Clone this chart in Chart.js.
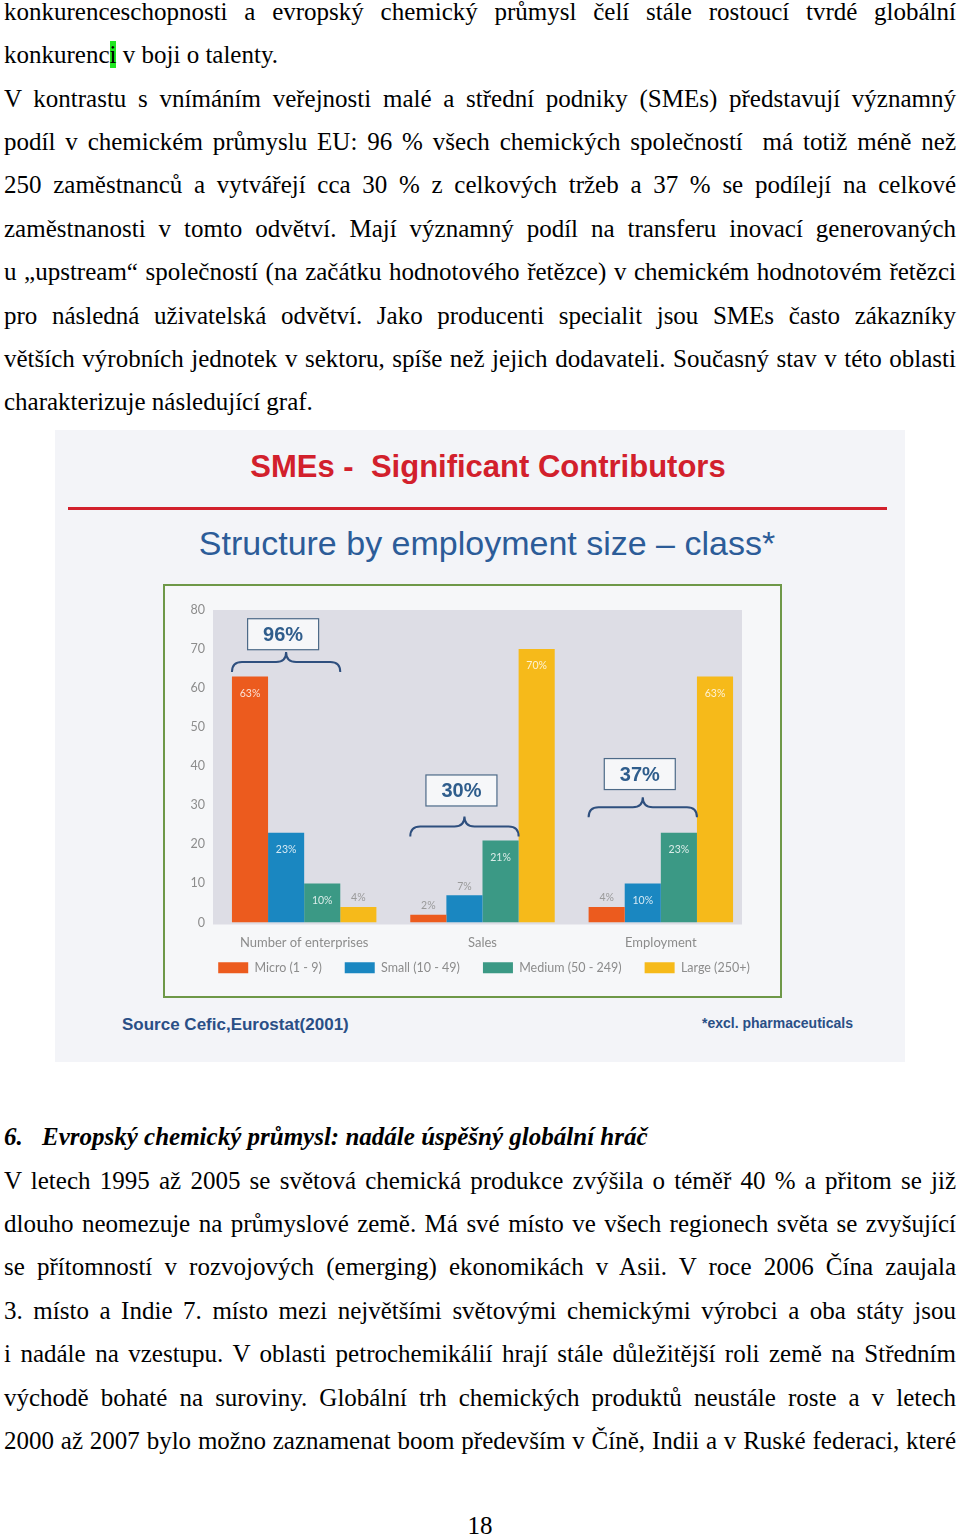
<!DOCTYPE html>
<html>
<head>
<meta charset="utf-8">
<script src="https://cdn.jsdelivr.net/npm/chart.js@4.4.0/dist/chart.umd.min.js"></script>
<style>
  body { margin: 0; width: 960px; height: 1537px; position: relative; background: #fff; overflow: hidden; }
  .txt { position: absolute; left: 4px; width: 952px; font-family: "Liberation Serif", "Times New Roman", serif; font-size: 25px; line-height: 43.4px; color: #000; }
  .j { text-align: justify; text-align-last: justify; }
  .hl { background: #22e622; }
  .num { display: inline-block; width: 38px; }
  #fig { position: absolute; left: 55px; top: 430px; width: 850px; height: 632px; background: #f3f4f8; font-family: "Liberation Sans", Arial, sans-serif; }
  #fig .t { position: absolute; white-space: nowrap; }
  #box { position: absolute; left: 108px; top: 154px; width: 619px; height: 414px; box-sizing: border-box; border: 2px solid #6e9848; background: #f6f7f9; }
</style>
</head>
<body>

<div class="txt" style="top:-10.25px">
  <div class="j">konkurenceschopnosti a evropský chemický průmysl čelí stále rostoucí tvrdé globální</div>
  <div>konkurenc<span class="hl">i</span> v boji o talenty.</div>
  <div class="j">V kontrastu s vnímáním veřejnosti malé a střední podniky (SMEs) představují významný</div>
  <div class="j">podíl v chemickém průmyslu EU: 96 % všech chemických společností&nbsp; má totiž méně než</div>
  <div class="j">250 zaměstnanců a vytvářejí cca 30 % z celkových tržeb a 37 % se podílejí na celkové</div>
  <div class="j">zaměstnanosti v tomto odvětví. Mají významný podíl na transferu inovací generovaných</div>
  <div class="j">u „upstream“ společností (na začátku hodnotového řetězce) v chemickém hodnotovém řetězci</div>
  <div class="j">pro následná uživatelská odvětví. Jako producenti specialit jsou SMEs často zákazníky</div>
  <div class="j">větších výrobních jednotek v sektoru, spíše než jejich dodavateli. Současný stav v této oblasti</div>
  <div>charakterizuje následující graf.</div>
</div>

<div id="fig">
  <div class="t" style="left:8px;width:850px;top:17px;line-height:40px;text-align:center;font-size:31px;font-weight:bold;color:#d2202c;">SMEs -&nbsp; Significant Contributors</div>
  <div style="position:absolute;left:13px;top:77px;width:819px;height:3px;background:#d2202c;"></div>
  <div class="t" style="left:7px;width:850px;top:93px;line-height:40px;text-align:center;font-size:34px;color:#2c5c98;">Structure by employment size – class*</div>
  <div id="box"><canvas id="chart" width="615" height="410"></canvas></div>
  <div class="t" style="left:67px;top:585px;line-height:20px;font-size:17px;font-weight:bold;color:#2a4f86;">Source Cefic,Eurostat(2001)</div>
  <div class="t" style="left:647px;top:583px;line-height:20px;font-size:14px;font-weight:bold;color:#2a4f86;">*excl. pharmaceuticals</div>
</div>

<div class="txt" style="top:1115.15px">
  <div style="font-weight:bold;font-style:italic;"><span class="num">6.</span>Evropský chemický průmysl: nadále úspěšný globální hráč</div>
  <div class="j">V letech 1995 až 2005 se světová chemická produkce zvýšila o téměř 40 % a přitom se již</div>
  <div class="j">dlouho neomezuje na průmyslové země. Má své místo ve všech regionech světa se zvyšující</div>
  <div class="j">se přítomností v rozvojových (emerging) ekonomikách v Asii. V roce 2006 Čína zaujala</div>
  <div class="j">3. místo a Indie 7. místo mezi největšími světovými chemickými výrobci a oba státy jsou</div>
  <div class="j">i nadále na vzestupu. V oblasti petrochemikálií hrají stále důležitější roli země na Středním</div>
  <div class="j">východě bohaté na suroviny. Globální trh chemických produktů neustále roste a v letech</div>
  <div class="j">2000 až 2007 bylo možno zaznamenat boom především v Číně, Indii a v Ruské federaci, které</div>
</div>

<div class="txt" style="top:1516px;left:0;width:960px;line-height:20px;text-align:center;">18</div>

<script>
// data (percent)
const categories = ["Number of enterprises", "Sales", "Employment"];
const sizeClasses = ["Micro (1 - 9)", "Small (10 - 49)", "Medium (50 - 249)", "Large (250+)"];
const micro = [63, 2, 4];
const small = [23, 7, 10];
const medium = [10, 21, 23];
const large = [4, 70, 63];
const smeShare = ["96%", "30%", "37%"];
const yTicks = [0, 10, 20, 30, 40, 50, 60, 70, 80];

const colors = ["#ec5b1e", "#1a87c1", "#3b9985", "#f6ba1a"];
const series = [micro, small, medium, large];

// grey plot background
const plotBg = {
  id: "plotBg",
  beforeDraw(chart) {
    const { ctx, chartArea: a } = chart;
    ctx.save();
    ctx.fillStyle = "#dddde5";
    ctx.fillRect(a.left - 2, a.top, a.right - a.left - 6, a.bottom - a.top + 2);
    ctx.restore();
  }
};

// move the legend row under the plot, centred on it
const legendPlace = {
  id: "legendPlace",
  afterLayout(chart) {
    const lg = chart.legend, a = chart.chartArea;
    const dx = (a.left + a.right) / 2 + 1.5 - (lg.left + lg.right) / 2;
    const dy = a.bottom + 16 - lg.top;
    lg.left += dx; lg.right += dx;
    lg.top += dy; lg.bottom += dy;
  }
};

// % labels on bars
const valueLabels = {
  id: "valueLabels",
  afterDatasetsDraw(chart) {
    const ctx = chart.ctx;
    ctx.save();
    ctx.font = "10.5px Lato, sans-serif";
    ctx.textAlign = "center";
    ctx.textBaseline = "middle";
    chart.data.datasets.forEach((ds, i) => {
      chart.getDatasetMeta(i).data.forEach((bar, j) => {
        const v = ds.data[j];
        const inside = v >= 10;
        ctx.fillStyle = inside ? "rgba(255,255,255,0.82)" : "#9a9a9a";
        ctx.fillText(v + "%", bar.x, inside ? bar.y + 17 : bar.y - 9);
      });
    });
    ctx.restore();
  }
};

// curly braces + share boxes over the SME bars
const braceLevel = [66.7, 24.6, 29.5];
const boxLevel = [73.8, 33.8, 38.0];
const braces = {
  id: "braces",
  afterDatasetsDraw(chart) {
    const ctx = chart.ctx;
    const y = chart.scales.y;
    const first = chart.getDatasetMeta(0).data;
    const third = chart.getDatasetMeta(2).data;
    ctx.save();
    smeShare.forEach((label, k) => {
      const x0 = first[k].x - first[k].width / 2;
      const x1 = third[k].x + third[k].width / 2;
      const xm = (x0 + x1) / 2;
      const yb = y.getPixelForValue(braceLevel[k]);
      ctx.strokeStyle = "#2e4f7e";
      ctx.lineWidth = 2;
      ctx.beginPath();
      ctx.moveTo(x0, yb + 10);
      ctx.quadraticCurveTo(x0, yb, x0 + 10, yb);
      ctx.lineTo(xm - 10, yb);
      ctx.quadraticCurveTo(xm, yb, xm, yb - 10);
      ctx.quadraticCurveTo(xm, yb, xm + 10, yb);
      ctx.lineTo(x1 - 10, yb);
      ctx.quadraticCurveTo(x1, yb, x1, yb + 10);
      ctx.stroke();

      const bx = xm - 3, by = y.getPixelForValue(boxLevel[k]);
      ctx.fillStyle = "#f6f7f9";
      ctx.fillRect(bx - 35.5, by - 15.5, 71, 31);
      ctx.strokeStyle = "#4d6a88";
      ctx.lineWidth = 1.2;
      ctx.strokeRect(bx - 35.5, by - 15.5, 71, 31);
      ctx.fillStyle = "#2f5d8c";
      ctx.font = "bold 20px 'Liberation Sans', Arial, sans-serif";
      ctx.textAlign = "center";
      ctx.textBaseline = "middle";
      ctx.fillText(label, bx, by + 1);
    });
    ctx.restore();
  }
};

const ctx = document.getElementById("chart").getContext("2d");
new Chart(ctx, {
  type: "bar",
  data: {
    labels: categories,
    datasets: sizeClasses.map((name, i) => ({
      label: name,
      data: series[i],
      backgroundColor: colors[i],
      borderWidth: 0,
      categoryPercentage: 0.81,
      barPercentage: 1.0
    }))
  },
  options: {
    responsive: false,
    animation: false,
    layout: { padding: { left: 0, right: 30, top: 24, bottom: 0 } },
    scales: {
      x: {
        grid: { display: false, drawTicks: false },
        border: { display: false },
        ticks: { color: "#8c8c8c", font: { family: "Lato", size: 13 }, padding: 13 },
        afterFit(scale) { scale.height = 28; }
      },
      y: {
        min: 0,
        max: 80,
        grid: { display: false, drawTicks: false },
        border: { display: false },
        afterBuildTicks(scale) { scale.ticks = yTicks.map(v => ({ value: v })); },
        ticks: { color: "#8c8c8c", font: { family: "Lato", size: 12.5 }, padding: 10 },
        afterFit(scale) { scale.width = 50; }
      }
    },
    plugins: {
      legend: {
        position: "bottom",
        labels: {
          boxWidth: 30,
          boxHeight: 11,
          padding: 23,
          color: "#8c8c8c",
          font: { family: "Lato", size: 12.5 }
        }
      },
      tooltip: { enabled: false }
    }
  },
  plugins: [plotBg, legendPlace, valueLabels, braces]
});
</script>
</body>
</html>
